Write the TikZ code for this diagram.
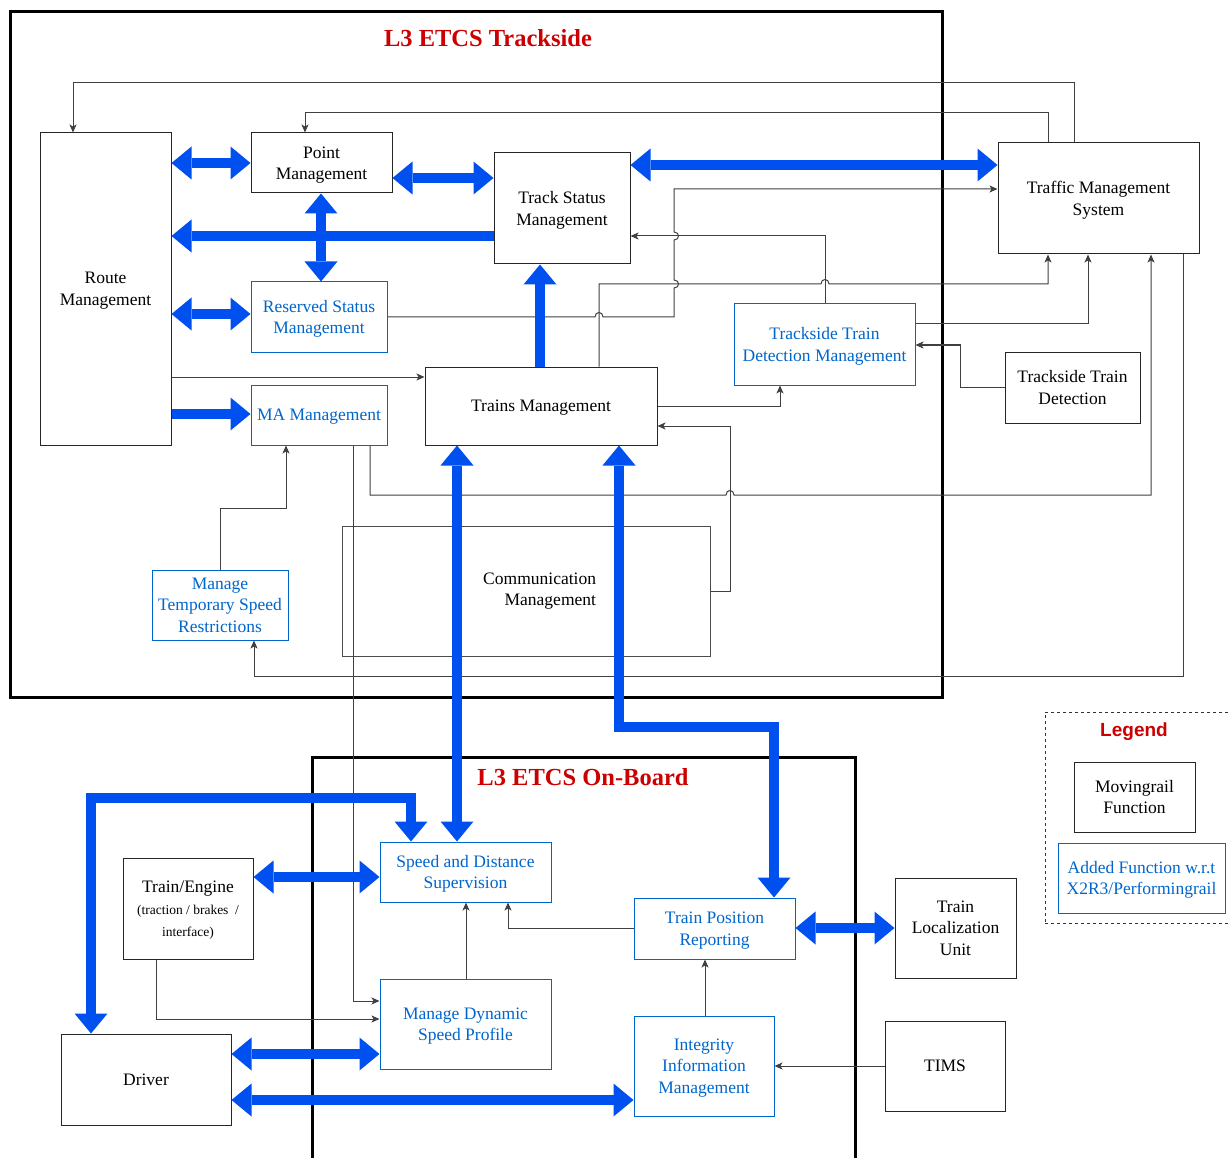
\documentclass[tikz,border=0pt]{standalone}
\usepackage{fontspec}
\setmainfont{Liberation Serif}
\newfontfamily\legendfont{Liberation Sans}
\usetikzlibrary{arrows.meta,calc}
\definecolor{fatblue}{HTML}{0050EF}
\definecolor{addblue}{HTML}{0066CC}
\definecolor{titlered}{HTML}{CC0000}
\begin{document}
\begin{tikzpicture}[x=1pt,y=-1pt,
  basebox/.style={draw=black!85, line width=1pt, inner sep=0pt, align=center,
    font=\fontsize{17.5}{21.5}\selectfont, text=black},
  box/.style={basebox, fill=white, text depth=0pt},
  addbox/.style={box, draw=addblue, text=addblue},
  frame/.style={draw=black, line width=3pt, inner sep=0pt},
  title/.style={font=\fontsize{24.5}{28}\selectfont\bfseries, text=titlered},
  fat/.style={draw=fatblue, line width=10pt, line join=miter},
  fatend/.style={fat, -{Triangle[length=20pt,width=33pt,line width=0pt,fill=fatblue]}},
  fatboth/.style={fat, {Triangle[length=20pt,width=33pt,line width=0pt,fill=fatblue]}-{Triangle[length=20pt,width=33pt,line width=0pt,fill=fatblue]}},
  thin/.style={draw=black!75, line width=1pt, -{Stealth[length=8pt,width=7pt,inset=2pt]}}
]
\useasboundingbox (0,0) rectangle (1229,1158);
\fill[white] (0,0) rectangle (1229,1158);

% frames
\node[frame, minimum width=932pt, minimum height=685pt] (trackside) at (476,354.5) {};
\node[frame, minimum width=543pt, minimum height=418pt] (onboard) at (583.5,966) {};
\node[draw=black!80, line width=1pt, dash pattern=on 3pt off 3pt, inner sep=0pt,
  minimum width=187pt, minimum height=211pt] (legendbox) at (1138.5,817.5) {};

\node[title] (tstitle) at (488,38) {L3 ETCS Trackside};
\node[title] (obtitle) at (583,777) {L3 ETCS On-Board};
\node[font=\legendfont\fontsize{19}{22}\selectfont\bfseries, text=titlered] (legtitle) at (1134,731.5) {Legend};

% trackside nodes
\node[box, minimum width=131pt, minimum height=312pt] (route) at (105.5,289) {Route\\Management};
\node[box, minimum width=141pt, minimum height=60pt] (point) at (321.5,163) {Point\\Management};
\node[box, minimum width=136pt, minimum height=111pt] (ts) at (562,208.5) {Track Status\\Management};
\node[box, minimum width=201pt, minimum height=111pt] (tms) at (1098.5,198.5) {Traffic Management\\System};
\node[addbox, minimum width=136pt, minimum height=70pt] (res) at (319,317) {Reserved Status\\Management};
\node[addbox, minimum width=181pt, minimum height=81pt] (ttdm) at (824.5,344.5) {Trackside Train\\Detection Management};
\node[box, minimum width=135pt, minimum height=71pt] (ttd) at (1072.5,387.5) {Trackside Train\\Detection};
\node[box, minimum width=232pt, minimum height=78pt] (trains) at (541,406) {Trains Management};
\node[addbox, minimum width=136pt, minimum height=60pt] (ma) at (319,415) {MA Management};
\node[addbox, minimum width=136pt, minimum height=70pt] (mtsr) at (220,605) {Manage\\Temporary Speed\\Restrictions};
\node[basebox, draw=black!70, minimum width=368pt, minimum height=130pt, text width=140pt, align=right] (comm) at (526,591) {Communication\\Management};

% on-board nodes
\node[addbox, minimum width=171pt, minimum height=60pt] (sds) at (465.5,872) {Speed and Distance\\Supervision};
\node[box, minimum width=130pt, minimum height=101pt, font=\fontsize{13.5}{22}\selectfont] (te) at (188,908.5)
  {{\fontsize{17.5}{21.5}\selectfont Train/Engine}\\(traction / brakes\ \ /\\interface)};
\node[addbox, minimum width=161pt, minimum height=61pt] (tpr) at (714.5,928.5) {Train Position\\Reporting};
\node[box, minimum width=121pt, minimum height=100pt] (tlu) at (955.5,928) {Train\\Localization\\Unit};
\node[addbox, minimum width=171pt, minimum height=90pt] (mdsp) at (465.5,1024) {Manage Dynamic\\Speed Profile};
\node[box, minimum width=170pt, minimum height=91pt] (driver) at (146,1079.5) {Driver};
\node[addbox, minimum width=140pt, minimum height=100pt] (iim) at (704,1066) {Integrity\\Information\\Management};
\node[box, minimum width=120pt, minimum height=90pt] (tims) at (945,1066) {TIMS};

% legend nodes
\node[box, minimum width=121pt, minimum height=70pt] (leg1) at (1134.5,797) {Movingrail\\Function};
\node[addbox, minimum width=167pt, minimum height=70pt] (leg2) at (1141.5,878) {Added Function w.r.t\\X2R3/Performingrail};

% thin connectors
\draw[thin] (tms.north -| 1074,0) -- (1074,83) -- (73,83) -- (route.north -| 73,0);
\draw[thin] (tms.north -| 1048,0) -- (1048,113) -- (305,113) -- (point.north -| 305,0);
\draw[thin] (trains.north -| 599,0) -- (599,284) -- (821,284) .. controls (821,278) and (829,278) .. (829,284) -- (1048,284) -- (tms.south -| 1048,0);
\draw[thin] (ttdm.north -| 825,0) -- (825,236) -- (ts.east |- 0,236);
\draw[thin] (res.east |- 0,317) -- (595,317) .. controls (595,311) and (603,311) .. (603,317) -- (674,317)
  -- (674,288) .. controls (680,288) and (680,280) .. (674,280) -- (674,240) .. controls (680,240) and (680,232) .. (674,232)
  -- (674,189) -- (tms.west |- 0,189);
\draw[thin] (ttdm.east |- 0,324) -- (1088,324) -- (tms.south -| 1088,0);
\draw[thin] (ttd.west |- 0,387) -- (960,387) -- (960,345) -- (ttdm.east |- 0,345);
\draw[thin] (trains.east |- 0,406) -- (780,406) -- (ttdm.south -| 780,0);
\draw[thin] (comm.east |- 0,591) -- (730,591) -- (730,426) -- (trains.east |- 0,426);
\draw[thin] (ma.south -| 370,0) -- (370,495) -- (726,495) .. controls (726,489) and (734,489) .. (734,495) -- (1151,495) -- (tms.south -| 1151,0);
\draw[thin] (tms.south -| 1183,0) -- (1183,676) -- (254,676) -- (mtsr.south -| 254,0);
\draw[thin] (mtsr.north -| 220,0) -- (220,508) -- (286,508) -- (ma.south -| 286,0);
\draw[thin] (ma.south -| 353,0) -- (353,1001) -- (mdsp.west |- 0,1001);
\draw[thin] (te.south -| 156,0) -- (156,1019) -- (mdsp.west |- 0,1019);
\draw[thin] (mdsp.north -| 466,0) -- (sds.south -| 466,0);
\draw[thin] (tpr.west |- 0,928) -- (508,928) -- (sds.south -| 508,0);
\draw[thin] (iim.north -| 705,0) -- (tpr.south -| 705,0);
\draw[thin] (tims.west |- 0,1066) -- (iim.east |- 0,1066);
\draw[thin] (route.east |- 0,377) -- (trains.west |- 0,377);

% fat arrows
\draw[fatboth] (route.east |- 0,163) -- (point.west |- 0,163);
\draw[fatboth] (point.east |- 0,178) -- (ts.west |- 0,178);
\draw[fatboth] (ts.east |- 0,165) -- (tms.west |- 0,165);
\draw[fatend] (ts.west |- 0,236) -- (route.east |- 0,236);
\draw[fatboth] (point.south -| 321,0) -- (res.north -| 321,0);
\draw[fatboth] (route.east |- 0,314) -- (res.west |- 0,314);
\draw[fatend] (route.east |- 0,414) -- (ma.west |- 0,414);
\draw[fatend] (trains.north -| 540,0) -- (ts.south -| 540,0);
\draw[fatboth] (trains.south -| 457,0) -- (sds.north -| 457,0);
\draw[fatboth] (trains.south -| 619,0) -- (619,727) -- (774,727) -- (tpr.north -| 774,0);
\draw[fatboth] (driver.north -| 91,0) -- (91,798) -- (411,798) -- (sds.north -| 411,0);
\draw[fatboth] (te.east |- 0,877) -- (sds.west |- 0,877);
\draw[fatboth] (driver.east |- 0,1054) -- (mdsp.west |- 0,1054);
\draw[fatboth] (driver.east |- 0,1100) -- (iim.west |- 0,1100);
\draw[fatboth] (tpr.east |- 0,928) -- (tlu.west |- 0,928);
\end{tikzpicture}
\end{document}
